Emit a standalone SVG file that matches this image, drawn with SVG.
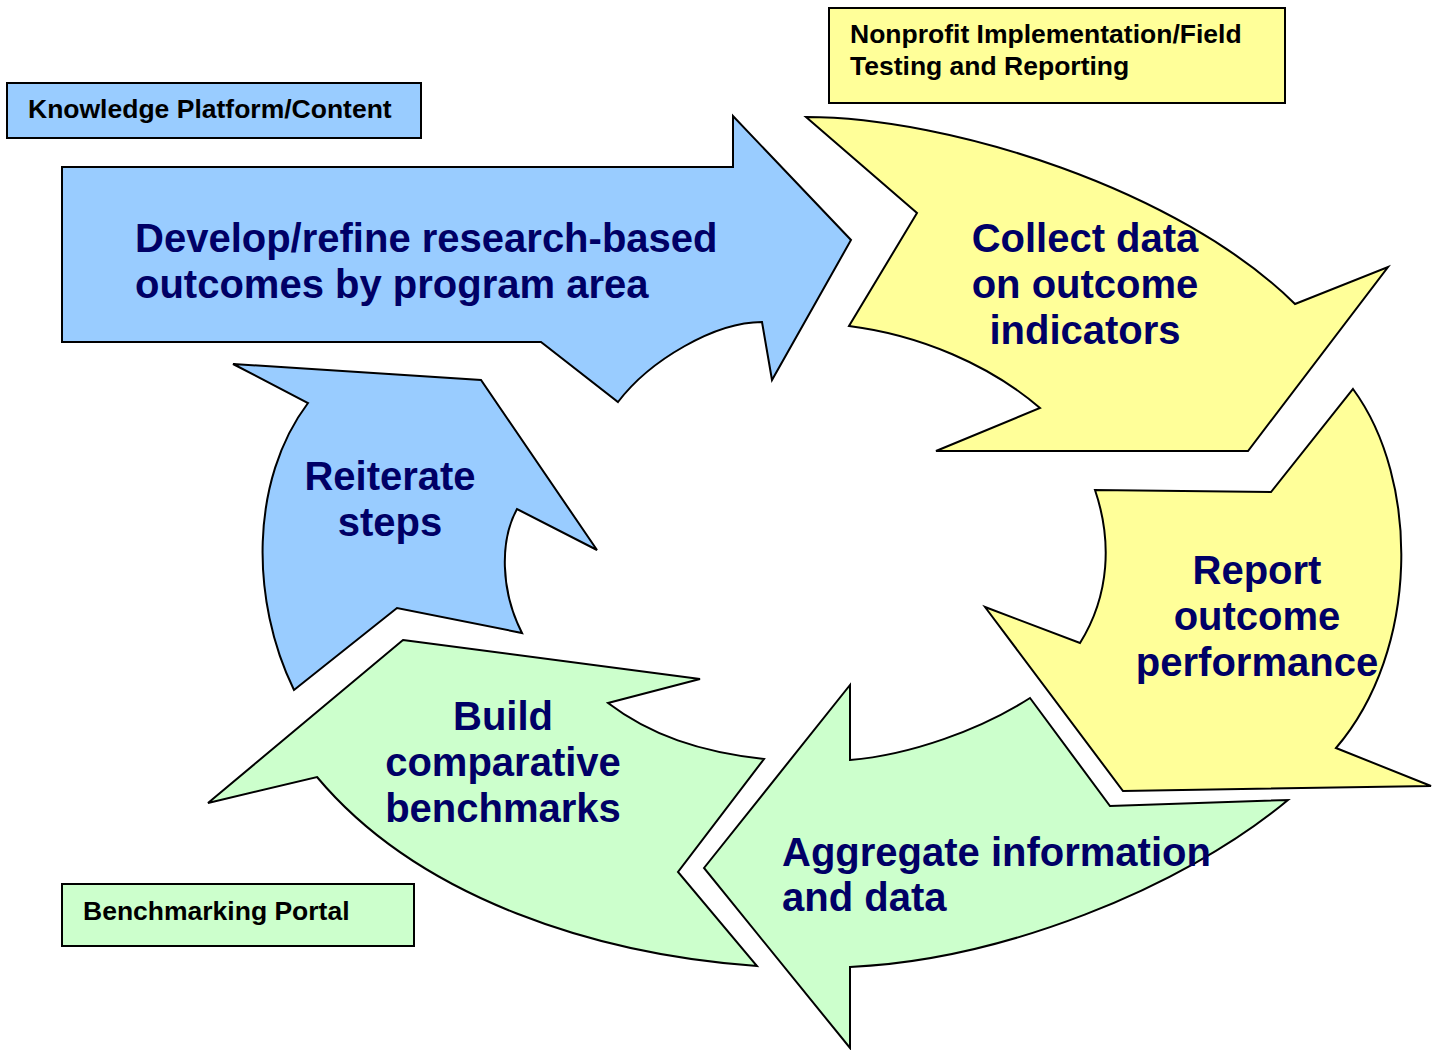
<svg xmlns="http://www.w3.org/2000/svg" width="1439" height="1050" viewBox="0 0 1439 1050">
<style>
.shape{stroke:#000;stroke-width:2;stroke-linejoin:miter}
.blue{fill:#99CCFF}
.yellow{fill:#FFFF99}
.green{fill:#CCFFCC}
.big{font-family:"Liberation Sans",Arial,sans-serif;font-weight:bold;font-size:40px;fill:#000066}
.lab{font-family:"Liberation Sans",Arial,sans-serif;font-weight:bold;font-size:26.5px;fill:#000}
.mid{text-anchor:middle}
</style>
<rect width="1439" height="1050" fill="#fff"/>
<g id="label-knowledge">
<rect class="shape blue" x="7" y="83" width="414" height="55"/>
<text class="lab" x="28" y="118">Knowledge Platform/Content</text>
</g>
<g id="label-nonprofit">
<rect class="shape yellow" x="829" y="8" width="456" height="95"/>
<text class="lab" x="850" y="43">Nonprofit Implementation/Field</text>
<text class="lab" x="850" y="75">Testing and Reporting</text>
</g>
<g id="label-benchmarking">
<rect class="shape green" x="62" y="884" width="352" height="62"/>
<text class="lab" x="83" y="920">Benchmarking Portal</text>
</g>
<g id="connectors"></g>
<g id="develop">
<path class="shape blue" d="M62,167 L733,167 L733,116 L851,240 L772,380 L762,322 C715,322 650,360 618,402 L541,342 L62,342 Z"/>
<text class="big" x="135" y="252">Develop/refine research-based</text>
<text class="big" x="135" y="298">outcomes by program area</text>
</g>
<g id="collect">
<path class="shape yellow" d="M806,117 C950,117 1180,190 1295,304 L1388,267 L1248,451 L936,451 L1040,408 C990,365 920,335 849,326 L917,213 Z"/>
<text class="big mid" x="1085" y="252">Collect data</text>
<text class="big mid" x="1085" y="298">on outcome</text>
<text class="big mid" x="1085" y="344">indicators</text>
</g>
<g id="report">
<path class="shape yellow" d="M1353,389 C1420,480 1420,650 1336,748 L1431,786 L1123,791 L985,607 L1080,643 C1110,595 1112,540 1095,490 L1271,492 Z"/>
<text class="big mid" x="1257" y="584">Report</text>
<text class="big mid" x="1257" y="630">outcome</text>
<text class="big mid" x="1257" y="676">performance</text>
</g>
<g id="aggregate">
<path class="shape green" d="M704,868 L850,685 L850,760 C910,755 980,730 1030,698 L1110,806 L1288,800 C1180,890 1000,960 850,967 L850,1048 Z"/>
<text class="big" x="782" y="866">Aggregate information</text>
<text class="big" x="782" y="911">and data</text>
</g>
<g id="build">
<path class="shape green" d="M403,640 L700,679 L608,703 C650,735 700,752 764,759 L678,872 L757,966 C600,955 420,900 317,777 L208,803 Z"/>
<text class="big mid" x="503" y="730">Build</text>
<text class="big mid" x="503" y="776">comparative</text>
<text class="big mid" x="503" y="822">benchmarks</text>
</g>
<g id="reiterate">
<path class="shape blue" d="M233,364 L481,380 L597,550 L517,509 C500,540 500,590 522,633 L397,608 L294,690 C250,600 250,480 308,403 Z"/>
<text class="big mid" x="390" y="490">Reiterate</text>
<text class="big mid" x="390" y="536">steps</text>
</g>
</svg>
